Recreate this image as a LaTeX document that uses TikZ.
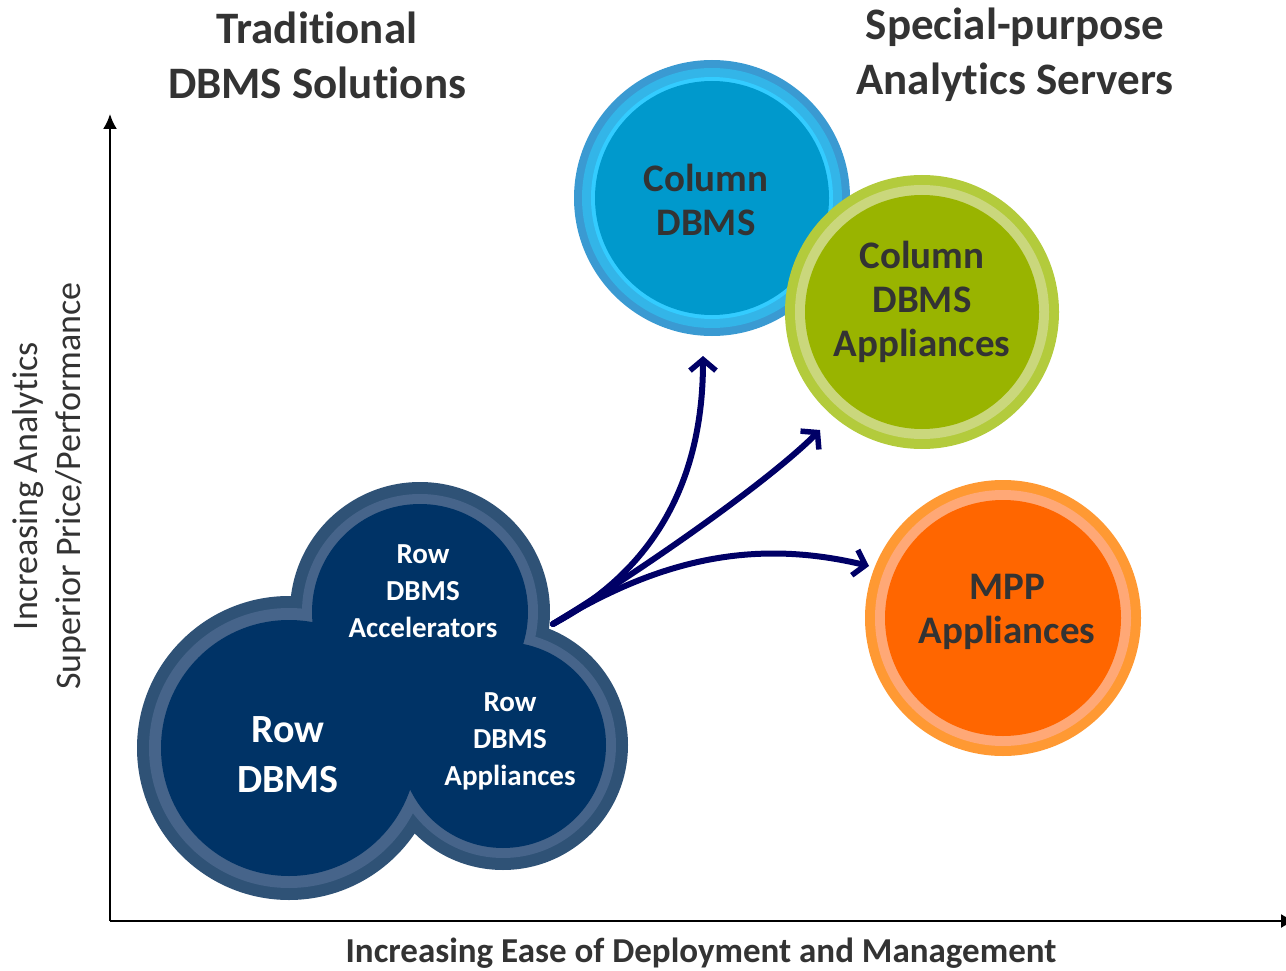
\documentclass[tikz,border=0pt]{standalone}
\usepackage{fontspec}
\setmainfont{Carlito}[Ligatures=NoCommon]
\usetikzlibrary{arrows.meta}
\definecolor{txt}{HTML}{333333}
\definecolor{navy}{HTML}{000066}
\definecolor{bA}{HTML}{3A9AD2}
\definecolor{bB}{HTML}{33B5E8}
\definecolor{bC}{HTML}{33CCFF}
\definecolor{bF}{HTML}{0099CC}
\definecolor{gA}{HTML}{B3CB3C}
\definecolor{gB}{HTML}{CAD77C}
\definecolor{gF}{HTML}{99B400}
\definecolor{oA}{HTML}{FF9933}
\definecolor{oB}{HTML}{FFA876}
\definecolor{oF}{HTML}{FF6600}
\definecolor{rA}{HTML}{2F5276}
\definecolor{rB}{HTML}{46648A}
\definecolor{rF}{HTML}{003366}
\tikzset{
  title/.style={text=txt, font=\fontsize{45}{55}\selectfont\bfseries, align=center},
  bubtext/.style={text=txt, font=\fontsize{39}{44}\selectfont\bfseries, align=center},
  rowbig/.style={text=white, font=\fontsize{40}{50}\selectfont\bfseries, align=center},
  rowsmall/.style={text=white, font=\fontsize{29}{37}\selectfont\bfseries, align=center},
  axislabel/.style={text=txt, font=\fontsize{36}{43}\selectfont, align=center},
  xlabel/.style={text=txt, font=\fontsize{35}{40}\selectfont\bfseries},
  axis/.style={line width=2pt, black, -{Latex[length=15pt,width=14pt]}},
  flow/.style={line width=6pt, navy, line cap=round, -{Straight Barb[length=11pt,width=26pt,line width=5.5pt]}}
}
\begin{document}
\begin{tikzpicture}[x=1pt,y=-1pt]
\useasboundingbox (0,0) rectangle (1286,971);

% axes
\coordinate (O) at (110,921);
\coordinate (ytip) at (110,114);
\coordinate (xtip) at (1296,921);
\draw[axis] (O) -- (ytip);
\draw[axis] (O) -- (xtip);

% titles
\node[title] (t1) at (317,55) {Traditional\\DBMS Solutions};
\node[title] (t2) at (1015,55) {Special-purpose\\Analytics Servers};

% axis labels
\node[axislabel, rotate=90] (ylab) at (49,486) {Increasing Analytics\\Superior Price/Performance};
\node[xlabel] (xlab) at (701,953) {Increasing Ease of Deployment and Management};

% Column DBMS (blue)
\fill[bA] (712,198) circle[radius=138];
\fill[bB] (712,198) circle[radius=130];
\fill[bC] (712,198) circle[radius=121];
\fill[bF] (712,198) circle[radius=117];
\node[bubtext] (cold) at (706,200) {Column\\DBMS};

% Column DBMS Appliances (green)
\fill[gA] (922,312) circle[radius=137];
\fill[gB] (922,312) circle[radius=127];
\fill[gF] (922,312) circle[radius=117];
\node[bubtext] (colapp) at (922,302) {Column\\DBMS\\Appliances};

% MPP Appliances (orange)
\fill[oA] (1003,618) circle[radius=138];
\fill[oB] (1003,618) circle[radius=128];
\fill[oF] (1003,618) circle[radius=118];
\node[bubtext] (mpp) at (1007,612) {MPP\\Appliances};

% Row cluster
\fill[rA] (289,748) circle[radius=152];
\fill[rA] (420,612) circle[radius=130];
\fill[rA] (503,745) circle[radius=125];
\fill[rB] (289,748) circle[radius=140];
\fill[rB] (420,612) circle[radius=118];
\fill[rB] (503,745) circle[radius=113];
\fill[rF] (289,748) circle[radius=128];
\fill[rF] (420,612) circle[radius=108];
\fill[rF] (503,745) circle[radius=103];
\node[rowbig] (rowdbms) at (288,755) {Row\\DBMS};
\node[rowsmall] (rowacc) at (423,591) {Row\\DBMS\\Accelerators};
\node[rowsmall] (rowapp) at (510,741) {Row\\DBMS\\Appliances};

% flow arrows
\coordinate (src) at (553,624);
\coordinate (e1) at (703,356);
\coordinate (e2) at (820,430);
\coordinate (e3) at (869,566);
\draw[flow] (src) .. controls (655,570) and (703,480) .. (e1);
\draw[flow] (src) .. controls (650,565) and (770,480) .. (e2);
\draw[flow] (src) .. controls (665,555) and (760,540) .. (e3);
\end{tikzpicture}
\end{document}
